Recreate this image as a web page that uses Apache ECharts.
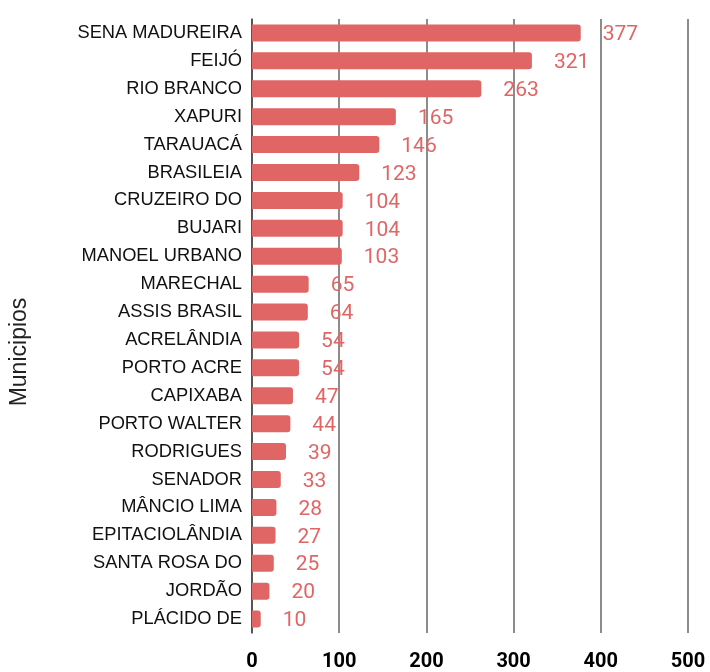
<!DOCTYPE html>
<html lang="pt">
<head>
    <meta charset="UTF-8">
    <title>Municipios</title>
    <script src="https://cdn.jsdelivr.net/npm/echarts@6/dist/echarts.min.js"></script>
    <style>
        html, body { margin: 0; padding: 0; background: #fff; }
        #chart { width: 710px; height: 672px; }
    </style>
</head>
<body>
<div id="chart"></div>
<script>
    var municipios = ["SENA MADUREIRA", "FEIJÓ", "RIO BRANCO", "XAPURI", "TARAUACÁ", "BRASILEIA",
        "CRUZEIRO DO", "BUJARI", "MANOEL URBANO", "MARECHAL", "ASSIS BRASIL", "ACRELÂNDIA",
        "PORTO ACRE", "CAPIXABA", "PORTO WALTER", "RODRIGUES", "SENADOR", "MÂNCIO LIMA",
        "EPITACIOLÂNDIA", "SANTA ROSA DO", "JORDÃO", "PLÁCIDO DE"];
    var casos = [377, 321, 263, 165, 146, 123, 104, 104, 103, 65, 64, 54, 54, 47, 44, 39, 33, 28, 27, 25, 20, 10];
    var xTicks = [0, 100, 200, 300, 400, 500];

    var chart = echarts.init(document.getElementById('chart'));
    var option = {
        animation: false,
        grid: { left: 251, right: 22, top: 19, bottom: 38 },
        xAxis: {
            type: 'value',
            min: xTicks[0],
            max: xTicks[xTicks.length - 1],
            interval: 100,
            axisLine: { show: false },
            axisTick: { show: false },
            axisLabel: {
                margin: 19,
                fontFamily: 'Roboto',
                fontWeight: 'bold',
                fontSize: 20,
                color: '#000'
            },
            splitLine: { lineStyle: { color: '#666', width: 1.5 } }
        },
        yAxis: {
            type: 'category',
            data: municipios,
            inverse: true,
            name: 'Municipios',
            nameLocation: 'middle',
            nameGap: 221,
            nameTextStyle: {
                fontFamily: 'Liberation Sans',
                fontSize: 23,
                color: '#222',
                padding: [0, 52, 0, 0]
            },
            axisLine: { lineStyle: { color: '#444', width: 1.5 } },
            axisTick: { show: false },
            axisLabel: {
                margin: 10,
                fontFamily: 'Liberation Sans',
                fontSize: 18.3,
                color: '#111'
            }
        },
        series: [{
            type: 'bar',
            data: casos,
            barWidth: 17,
            itemStyle: { color: '#e06666', borderRadius: [0, 3, 3, 0] },
            label: {
                show: true,
                position: 'right',
                distance: 22,
                fontFamily: 'Roboto',
                fontSize: 21,
                color: '#e06666',
                offset: [0, 2]
            }
        }]
    };
    chart.setOption(option);
</script>
</body>
</html>
